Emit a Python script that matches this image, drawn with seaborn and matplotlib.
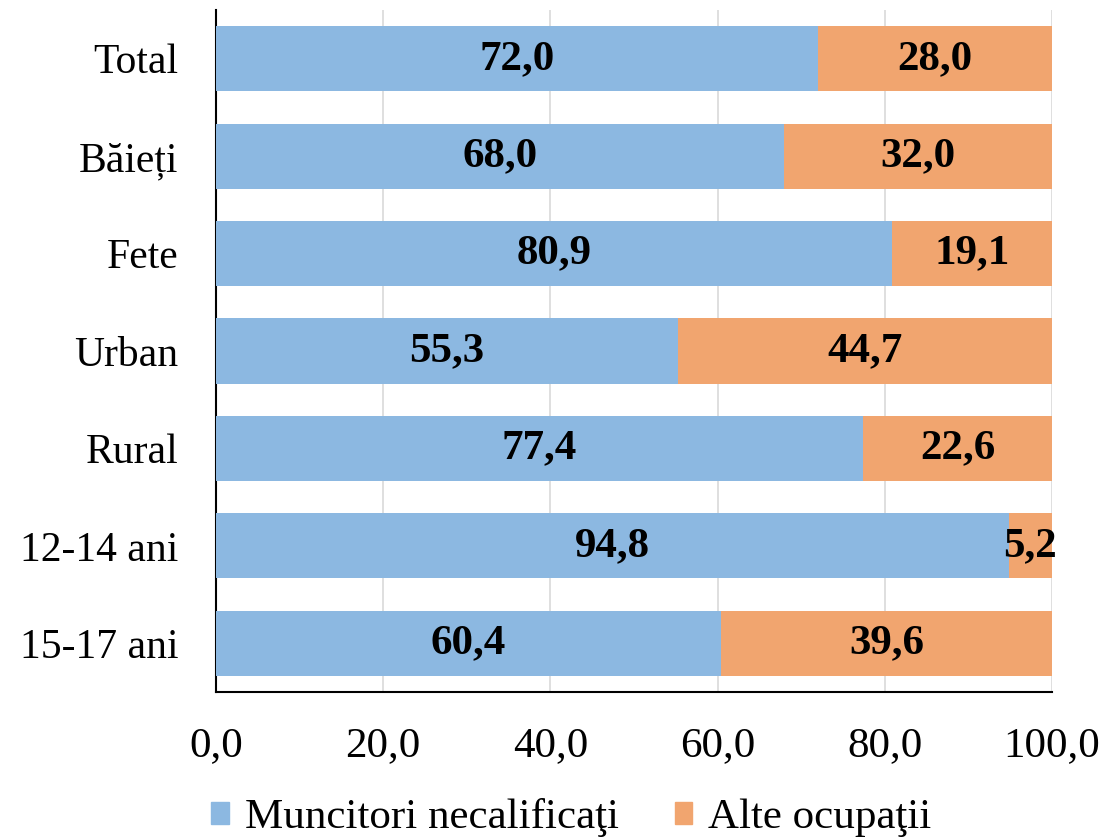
import matplotlib
matplotlib.use("Agg")
import matplotlib.pyplot as plt
import matplotlib.patches as mpatches
import seaborn as sns
import pandas as pd

categories = ["Total", "Băieți", "Fete", "Urban", "Rural", "12-14 ani", "15-17 ani"]
muncitori = [72.0, 68.0, 80.9, 55.3, 77.4, 94.8, 60.4]
alte = [28.0, 32.0, 19.1, 44.7, 22.6, 5.2, 39.6]
series_names = ["Muncitori necalificaţi", "Alte ocupaţii"]
xticks = [0, 20, 40, 60, 80, 100]

blue = "#8CB8E1"
orange = "#F1A56F"

sns.set_style("white")
plt.rcParams["font.family"] = ["Liberation Serif", "DejaVu Serif"]
plt.rcParams["text.color"] = "black"
plt.rcParams["xtick.color"] = "black"
plt.rcParams["ytick.color"] = "black"

df = pd.DataFrame({"cat": categories, "m": muncitori, "a": alte})
df["total"] = df["m"] + df["a"]

fig = plt.figure(figsize=(11.07, 8.38), dpi=100)
ax = fig.add_axes([216 / 1107, 1 - 692 / 838, (1052 - 216) / 1107, (692 - 10) / 838])

sns.barplot(data=df, x="total", y="cat", order=categories, color=orange,
            orient="h", width=0.67, ax=ax, saturation=1, zorder=2, linewidth=0)
sns.barplot(data=df, x="m", y="cat", order=categories, color=blue,
            orient="h", width=0.67, ax=ax, saturation=1, zorder=3, linewidth=0)

fs = 31
for i, (m, a) in enumerate(zip(muncitori, alte)):
    ax.text(m / 2, i, f"{m:.1f}".replace(".", ","), ha="center", va="center",
            fontsize=fs, fontweight="bold", color="black", zorder=5)
    ax.text(m + a / 2, i, f"{a:.1f}".replace(".", ","), ha="center", va="center",
            fontsize=fs, fontweight="bold", color="black", zorder=5)

ax.set_xlim(0, 100)
ax.set_ylim(6.5, -0.5)
ax.set_xticks(xticks)
ax.set_xticklabels([f"{v:.1f}".replace(".", ",") for v in xticks], fontsize=fs)
ax.set_yticks(range(len(categories)))
ax.set_yticklabels(categories, fontsize=30)
ax.set_xlabel("")
ax.set_ylabel("")
ax.tick_params(axis="both", length=0, colors="black")
ax.tick_params(axis="y", pad=27)
ax.tick_params(axis="x", pad=25)

ax.grid(axis="x", color="#D9D9D9", linewidth=1.2, zorder=0)
ax.set_axisbelow(True)
for s in ["top", "right"]:
    ax.spines[s].set_visible(False)
for s in ["left", "bottom"]:
    ax.spines[s].set_color("black")
    ax.spines[s].set_linewidth(1.5)

handles = [mpatches.Patch(color=blue, label=series_names[0]),
           mpatches.Patch(color=orange, label=series_names[1])]
fig.legend(handles=handles, loc="center", bbox_to_anchor=(0.516, 0.024), ncol=2,
           frameon=False, fontsize=31, handlelength=0.4, handleheight=0.4,
           handletextpad=0.37, columnspacing=1.3, borderpad=0)

fig.savefig("out.png", dpi=100)
